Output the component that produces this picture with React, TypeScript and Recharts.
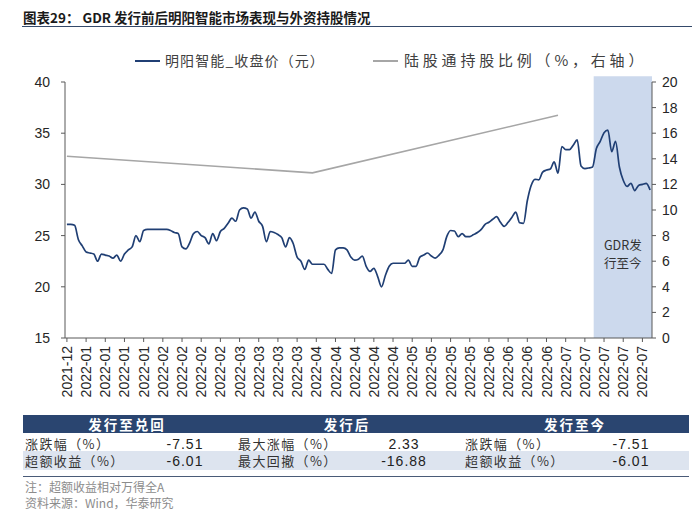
import React from "react";
import { LineChart, Line, XAxis, YAxis, ReferenceArea } from "recharts";

// 每5个交易日一个刻度
const xLabels = [
  "2021-12",
  "2022-01", "2022-01", "2022-01", "2022-01",
  "2022-02", "2022-02", "2022-02", "2022-02",
  "2022-03", "2022-03", "2022-03", "2022-03",
  "2022-04", "2022-04", "2022-04", "2022-04", "2022-04",
  "2022-05", "2022-05", "2022-05", "2022-05",
  "2022-06", "2022-06", "2022-06", "2022-06",
  "2022-07", "2022-07", "2022-07", "2022-07", "2022-07",
];

// 明阳智能收盘价（元），按交易日
const closePrice = [
  26.1, 26.1, 26.0, 24.6, 24.0, 23.4, 23.3, 23.2, 22.5, 23.2,
  23.1, 23.0, 22.8, 23.1, 22.5, 23.2, 23.6, 23.9, 25.0, 24.4,
  25.5, 25.6, 25.6, 25.6, 25.6, 25.6, 25.6, 25.5, 25.3, 25.2,
  23.9, 23.7, 24.3, 25.2, 25.4, 25.0, 24.8, 24.2, 25.2, 24.5,
  25.4, 25.7, 26.2, 26.7, 26.4, 27.5, 27.7, 27.6, 26.7, 27.3,
  26.4, 25.9, 24.4, 25.4, 25.3, 25.1, 24.8, 23.9, 24.8, 24.2,
  22.9, 22.5, 21.7, 22.6, 22.2, 22.2, 22.2, 22.2, 21.7, 21.3,
  23.6, 23.8, 23.8, 23.6, 22.9, 22.6, 22.7, 23.0, 22.0, 21.5,
  21.8, 21.0, 20.0, 21.1, 22.0, 22.3, 22.3, 22.3, 22.3, 22.6,
  22.0, 22.0, 22.9, 23.1, 23.3, 23.0, 22.8, 23.1, 23.6, 24.9,
  25.5, 25.45, 24.9, 25.2, 24.9, 24.9, 25.1, 25.3, 25.6, 26.1,
  26.3, 26.6, 26.85, 26.3, 25.9, 26.3, 26.8, 27.3, 26.25, 26.2,
  28.4, 29.9, 30.5, 30.45, 31.2, 31.4, 31.5, 32.2, 31.1, 33.7,
  33.4, 33.4, 33.85, 34.35, 31.8, 31.55, 31.6, 31.7, 33.5, 34.2,
  35.05, 35.3, 33.2, 34.2, 31.7, 30.4, 29.8, 30.1, 29.4, 29.9,
  30.0, 30.1, 29.45,
];

// 陆股通持股比例（%），季度末
const holdingIdx = [0, 64, 128];
const holdingPct = [14.2, 12.9, 17.4];

const gdrStart = 137.3;
const leftTicks = [15, 20, 25, 30, 35, 40];
const rightTicks = [0, 2, 4, 6, 8, 10, 12, 14, 16, 18, 20];

const tableHead = ["发行至兑回", "发行后", "发行至今"];
const tableRows = [
  ["涨跌幅（%）", "-7.51", "最大涨幅（%）", "2.33", "涨跌幅（%）", "-7.51"],
  ["超额收益（%）", "-6.01", "最大回撤（%）", "-16.88", "超额收益（%）", "-6.01"],
];

const data = closePrice.map((p, i) => {
  const k = holdingIdx.indexOf(i);
  return { i, price: p, holding: k >= 0 ? holdingPct[k] : null };
});

const NAVY = "#203f74";
const AXIS = "#595959";
const NUM_FONT = "'Liberation Sans', Arial, sans-serif";
const CJK_FONT = "'Noto Sans CJK SC', 'Noto Sans', sans-serif";

const DateTick = (props: any) => {
  const { x, y, payload } = props;
  const label = xLabels[Math.round(payload.value / 5)];
  return (
    <text
      x={x}
      y={y + 2}
      transform={`rotate(-90, ${x}, ${y + 2})`}
      textAnchor="end"
      dy="0.36em"
      fontSize={14}
      fontFamily={NUM_FONT}
      fill="#262626"
    >
      {label}
    </text>
  );
};

const GdrLabel = (props: any) => {
  const vb = props.viewBox;
  const cx = vb.x + vb.width / 2;
  const cy = vb.y + vb.height * 0.665;
  return (
    <text textAnchor="middle" fontSize={12.5} fontFamily={CJK_FONT} fill="#333">
      <tspan x={cx} y={cy}>GDR发</tspan>
      <tspan x={cx} y={cy + 18}>行至今</tspan>
    </text>
  );
};

export default function App() {
  return (
    <div style={{ position: "absolute", left: 0, top: 0, width: 700, height: 516, background: "#fff", overflow: "hidden", fontFamily: CJK_FONT }}>
      {/* 标题 */}
      <div style={{ position: "absolute", left: 23, top: 7, fontSize: 13.5, fontWeight: 700, color: "#1a1a1a", whiteSpace: "nowrap", lineHeight: "20px" }}>
        图表29： GDR 发行前后明阳智能市场表现与外资持股情况
      </div>
      <div style={{ position: "absolute", left: 22, top: 26, width: 670, height: 0, borderTop: "1.5px solid #34496a" }} />

      <div style={{ position: "absolute", left: 0, top: 0 }}>
        <LineChart width={700} height={410} data={data} margin={{ top: 82, right: 8, bottom: 2, left: 20 }}>
          <ReferenceArea
            xAxisId={0}
            yAxisId="right"
            x1={gdrStart}
            x2={152.5}
            y1={0}
            y2={20.45}
            fill="#ccd9ed"
            fillOpacity={1}
            stroke="none"
            ifOverflow="visible"
            label={<GdrLabel />}
          />
          <XAxis
            dataKey="i"
            type="number"
            domain={[-0.5, 152.5]}
            ticks={xLabels.map((_, k) => k * 5)}
            interval={0}
            tick={<DateTick />}
            height={70}
            tickSize={4}
            stroke={AXIS}
            allowDataOverflow
          />
          <YAxis
            yAxisId="left"
            domain={[15, 40]}
            ticks={leftTicks}
            interval={0}
            width={45}
            tickSize={4}
            tickMargin={11}
            stroke={AXIS}
            tick={{ fontSize: 14, fill: "#262626", fontFamily: NUM_FONT }}
          />
          <YAxis
            yAxisId="right"
            orientation="right"
            domain={[0, 20]}
            ticks={rightTicks}
            interval={0}
            width={40}
            tickSize={4}
            tickMargin={6}
            stroke={AXIS}
            tick={{ fontSize: 14, fill: "#262626", fontFamily: NUM_FONT, textAnchor: "start" }}
          />
          <Line
            yAxisId="right"
            dataKey="holding"
            type="linear"
            stroke="#a6a6a6"
            strokeWidth={1.6}
            dot={false}
            connectNulls
            isAnimationActive={false}
          />
          <Line
            yAxisId="left"
            dataKey="price"
            type="monotone"
            stroke={NAVY}
            strokeWidth={1.7}
            dot={false}
            isAnimationActive={false}
          />
        </LineChart>
      </div>

      {/* 图例 */}
      <div style={{ position: "absolute", left: 135, top: 60, width: 25, borderTop: `2px solid ${NAVY}` }} />
      <div style={{ position: "absolute", left: 165, top: 50, fontSize: 14, color: "#404040", whiteSpace: "nowrap", lineHeight: "20px", letterSpacing: 1.1 }}>
        明阳智能_收盘价（元）
      </div>
      <div style={{ position: "absolute", left: 373, top: 60, width: 25, borderTop: "2px solid #a6a6a6" }} />
      <div style={{ position: "absolute", left: 404, top: 50, fontSize: 15, color: "#404040", whiteSpace: "nowrap", lineHeight: "20px", letterSpacing: 3.8 }}>
        陆股通持股比例（%，右轴）
      </div>

      {/* 表格 */}
      <div style={{ position: "absolute", left: 23, top: 415, width: 666, height: 18, background: "#2a4570" }} />
      {tableHead.map((h, k) => (
        <div
          key={h}
          style={{
            position: "absolute",
            left: [127, 347, 575][k] - 80,
            width: 160,
            top: 415,
            height: 18,
            lineHeight: "18px",
            textAlign: "center",
            color: "#fff",
            fontWeight: 700,
            fontSize: 13.5,
            letterSpacing: 2,
          }}
        >
          {h}
        </div>
      ))}
      <div style={{ position: "absolute", left: 23, top: 451, width: 666, height: 19, background: "#dde4ef" }} />
      {tableRows.map((row, r) => (
        <React.Fragment key={r}>
          {[0, 1, 2].map((c) => (
            <React.Fragment key={c}>
              <div
                style={{
                  position: "absolute",
                  left: [25, 238, 465][c],
                  top: [435.5, 452.5][r],
                  height: 16,
                  lineHeight: "16px",
                  fontSize: 13,
                  color: "#333",
                  whiteSpace: "nowrap",
                  letterSpacing: 1.4,
                }}
              >
                {row[c * 2]}
              </div>
              <div
                style={{
                  position: "absolute",
                  left: [185, 404, 631][c] - 40,
                  width: 80,
                  textAlign: "center",
                  top: [435.5, 452.5][r],
                  height: 16,
                  lineHeight: "16px",
                  fontSize: 14,
                  fontFamily: NUM_FONT,
                  color: "#222",
                  letterSpacing: 1,
                }}
              >
                {row[c * 2 + 1]}
              </div>
            </React.Fragment>
          ))}
        </React.Fragment>
      ))}
      <div style={{ position: "absolute", left: 23, top: 476, width: 666, height: 0, borderTop: "1.5px solid #4a5b78" }} />

      {/* 注释 */}
      <div style={{ position: "absolute", left: 25, top: 479, fontSize: 12, color: "#8c8c8c", lineHeight: "16px", whiteSpace: "nowrap" }}>
        注：超额收益相对万得全A
      </div>
      <div style={{ position: "absolute", left: 25, top: 495, fontSize: 12, color: "#8c8c8c", lineHeight: "16px", whiteSpace: "nowrap" }}>
        资料来源：Wind，华泰研究
      </div>
    </div>
  );
}
